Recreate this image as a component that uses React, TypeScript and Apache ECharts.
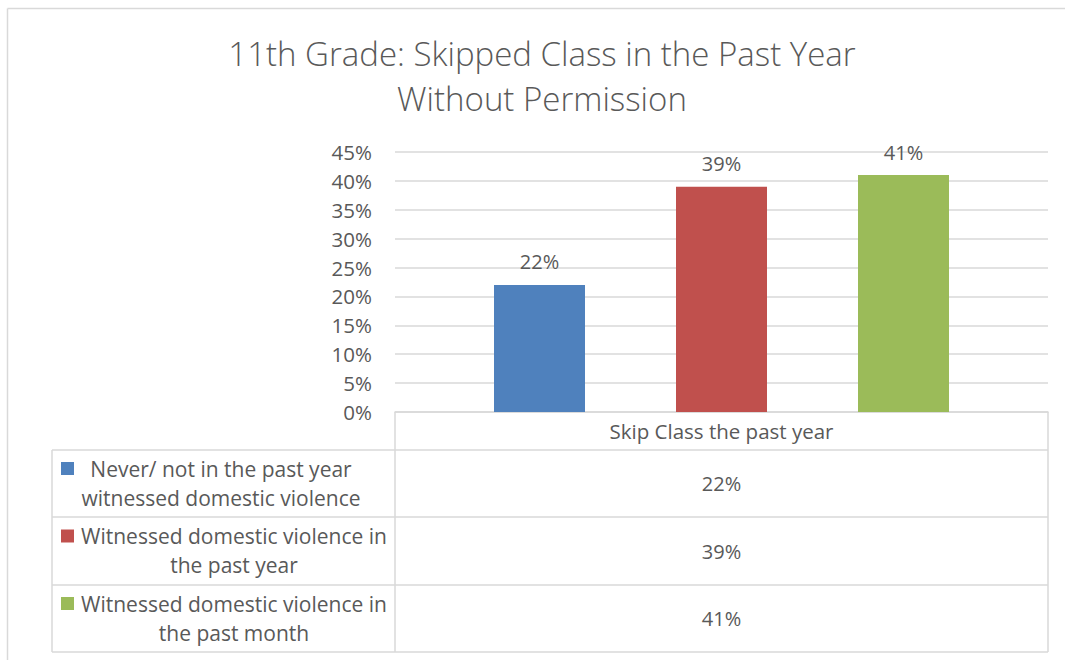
import React, { useEffect, useRef } from "react";
import * as echarts from "echarts";

const titleLines = ["11th Grade: Skipped Class in the Past Year", "Without Permission"];
const categories = ["Skip Class the past year"];
const seriesNames = [
  "Never/ not in the past year witnessed domestic violence",
  "Witnessed domestic violence in the past year",
  "Witnessed domestic violence in the past month",
];
const seriesLabelLines = [
  ["Never/ not in the past year", "witnessed domestic violence"],
  ["Witnessed domestic violence in", "the past year"],
  ["Witnessed domestic violence in", "the past month"],
];
const seriesValues = [22, 39, 41];
const seriesColors = ["#4F81BD", "#C0504D", "#9BBB59"];
const yTicks = [0, 5, 10, 15, 20, 25, 30, 35, 40, 45];

const FONT = "'Open Sans'";
const TXT = "#595959";
const LINE = "#D9D9D9";

// layout
const W = 1065;
const H = 660;
const gridLeft = 395;
const gridRight = 1048;
const gridTop = 152;
const gridBottom = 412;
const tableLeft = 52;
const rowBounds = [450, 517, 585, 652];
const rowTextCenters = [221, 234, 234];

export default function App() {
  const ref = useRef<HTMLDivElement>(null);
  useEffect(() => {
    document.body.style.margin = "0";
    const chart = echarts.init(ref.current!, undefined, { renderer: "svg" });

    const graphics: any[] = [];
    graphics.push({ type: "line", shape: { x1: 7.5, y1: 8.5, x2: 7.5, y2: H }, style: { stroke: LINE, lineWidth: 1.5 } });
    graphics.push({ type: "line", shape: { x1: 7.5, y1: 8.5, x2: W, y2: 8.5 }, style: { stroke: LINE, lineWidth: 1.5 } });

    titleLines.forEach((t, i) => {
      graphics.push({
        type: "text",
        x: 542,
        y: 53 + i * 45,
        style: { text: t, font: `300 33px ${FONT}`, fill: TXT, align: "center", verticalAlign: "middle" },
      });
    });

    const ls = { stroke: LINE, lineWidth: 1.5 };
    graphics.push({ type: "line", shape: { x1: gridLeft, y1: gridBottom, x2: gridLeft, y2: rowBounds[3] }, style: ls });
    graphics.push({ type: "line", shape: { x1: gridRight, y1: gridBottom, x2: gridRight, y2: rowBounds[3] }, style: ls });
    graphics.push({ type: "line", shape: { x1: tableLeft, y1: rowBounds[0], x2: tableLeft, y2: rowBounds[3] }, style: ls });
    rowBounds.forEach((y) => {
      graphics.push({ type: "line", shape: { x1: tableLeft, y1: y, x2: gridRight, y2: y }, style: ls });
    });

    seriesNames.forEach((name, i) => {
      const top = rowBounds[i];
      const bottom = rowBounds[i + 1];
      const mid = (top + bottom) / 2;
      const lines = seriesLabelLines[i];
      const l1y = mid - 15;
      const l2y = mid + 14;
      graphics.push({
        type: "rect",
        shape: { x: 61, y: l1y - 6.5, width: 13, height: 13 },
        style: { fill: seriesColors[i] },
      });
      lines.forEach((ln, j) => {
        graphics.push({
          type: "text",
          x: rowTextCenters[i],
          y: j === 0 ? l1y : l2y,
          style: { text: ln, font: `21px ${FONT}`, fill: TXT, align: "center", verticalAlign: "middle" },
        });
      });
      graphics.push({
        type: "text",
        x: (gridLeft + gridRight) / 2,
        y: mid,
        style: { text: seriesValues[i] + "%", font: `20px ${FONT}`, fill: TXT, align: "center", verticalAlign: "middle" },
      });
    });

    chart.setOption({
      animation: false,
      grid: { left: gridLeft, right: W - gridRight, top: gridTop, bottom: H - gridBottom, containLabel: false },
      xAxis: {
        type: "category",
        data: categories,
        axisLine: { show: true, lineStyle: { color: LINE, width: 1.5 } },
        axisTick: { show: false },
        axisLabel: { show: true, color: TXT, fontFamily: FONT, fontSize: 20.5, margin: 8 },
      },
      yAxis: {
        type: "value",
        min: yTicks[0],
        max: yTicks[yTicks.length - 1],
        interval: 5,
        axisLine: { show: false },
        axisTick: { show: false },
        axisLabel: { color: TXT, fontFamily: FONT, fontSize: 20.5, margin: 23, formatter: (v: number) => v + "%" },
        splitLine: { lineStyle: { color: LINE, width: 1.5 } },
      },
      series: seriesNames.map((name, i) => ({
        type: "bar",
        name,
        data: [seriesValues[i]],
        barWidth: 91,
        barGap: "100%",
        itemStyle: { color: seriesColors[i] },
        label: {
          show: true,
          position: "top",
          distance: 13,
          color: TXT,
          fontFamily: FONT,
          fontSize: 20,
          formatter: (p: any) => p.value + "%",
        },
      })),
      graphic: graphics,
    });
    return () => chart.dispose();
  }, []);
  return <div ref={ref} style={{ width: W, height: H, position: "absolute", left: 0, top: 0, background: "#fff" }} />;
}
